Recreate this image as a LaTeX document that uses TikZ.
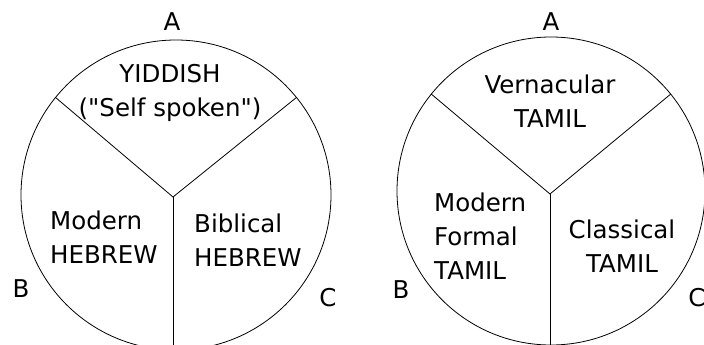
\documentclass[tikz,border=0pt]{standalone}
\usepackage{fontspec}
\setmainfont{DejaVu Sans}
\begin{document}
\begin{tikzpicture}[x=1pt,y=-1pt,
  ring/.style={circle,draw,line width=0.8pt,inner sep=0pt},
  spoke/.style={line width=0.8pt},
  lbl/.style={font=\fontsize{24.5}{34}\selectfont,inner sep=0pt},
  ]
\useasboundingbox (0,0) rectangle (704,345);
% left circle
\node[ring,minimum size=310pt] (L) at (176,195) {};
\coordinate (Lh) at (173,197);
\draw[spoke] (L.141) -- (Lh) -- (L.39.5);
\draw[spoke] (Lh) -- (Lh |- L.south);
% right circle
\node[ring,minimum size=308pt] (R) at (551,191) {};
\coordinate (Rh) at (550,194);
\draw[spoke] (R.141.3) -- (Rh) -- (R.39);
\draw[spoke] (Rh) -- (Rh |- R.south);
% left texts
\node[lbl] (LA) at (172,22) {A};
\node[lbl] (LB) at (21,289) {B};
\node[lbl] (LC) at (328,298) {C};
\node[lbl,align=center] (Ly) at (170,92.5) {YIDDISH\\(\textquotedbl Self spoken\textquotedbl)};
\node[lbl,align=left,anchor=west] (Lm) at (50,236.7) {Modern\\HEBREW};
\node[lbl,align=left,anchor=west] (Lb) at (194,239.7) {Biblical\\HEBREW};
% right texts
\node[lbl] (RA) at (551,22) {A};
\node[lbl] (RB) at (401,290) {B};
\node[lbl] (RC) at (697,298) {C};
\node[lbl,align=center] (Rv) at (550,101.2) {Vernacular\\TAMIL};
\node[lbl,align=left,anchor=west] (Rm) at (434,236.2) {Modern\\Formal\\TAMIL};
\node[lbl,align=center] (Rc) at (622,246.2) {Classical\\TAMIL};
\end{tikzpicture}
\end{document}
